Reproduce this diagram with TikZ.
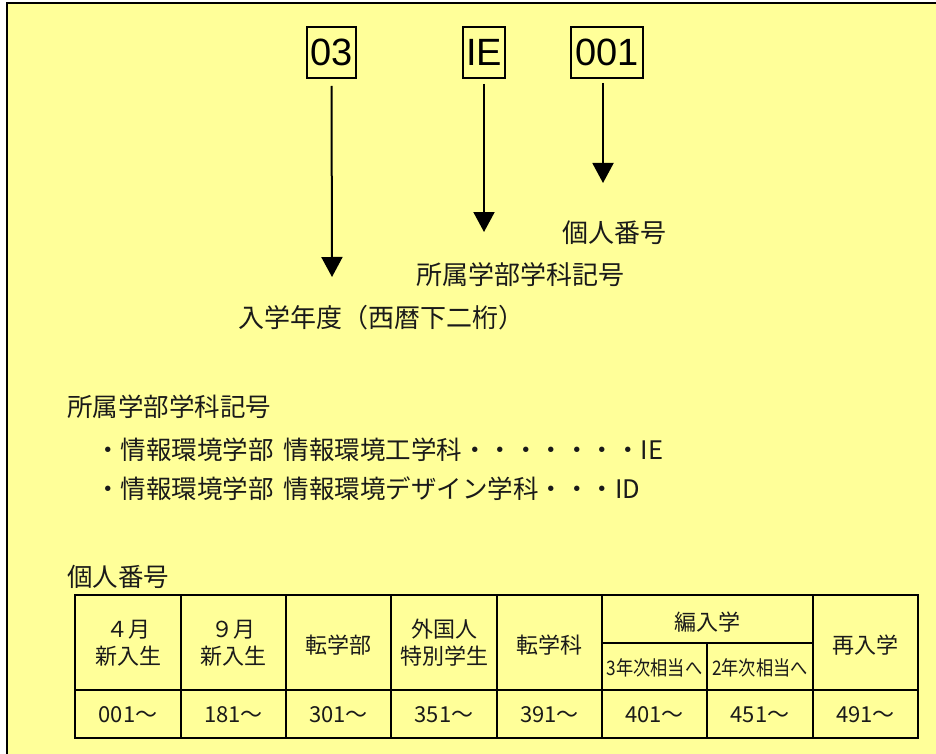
\documentclass[tikz,border=0pt]{standalone}
\usepackage{fontspec}
\usepackage{graphicx}
\newfontfamily\jp{Noto Sans CJK JP}
\newfontfamily\arl{Liberation Sans}
\usetikzlibrary{arrows.meta}
\definecolor{bgy}{HTML}{FFFF99}
\definecolor{ink}{HTML}{1A1A1A}
\begin{document}
\begin{tikzpicture}[x=1pt,y=-1pt,
 code/.style={draw,line width=2pt,inner sep=0pt,text=black,font=\arl\fontsize{38}{38}\selectfont,minimum height=51pt},
 lab/.style={font=\jp\fontsize{26}{26}\selectfont,inner sep=0pt,text=ink},
 body/.style={font=\jp\fontsize{25.5}{25.5}\selectfont,inner sep=0pt,anchor=west,text=ink},
 arr/.style={line width=2pt,-{Triangle[width=21pt,length=20pt]}},
 cell/.style={font=\jp\fontsize{22}{27}\selectfont,inner sep=0pt,align=center,text=ink},
 small/.style={font=\jp\fontsize{20}{20}\selectfont,inner sep=0pt,text=ink},
 tl/.style={line width=2pt}]
\useasboundingbox (0,0) rectangle (936,754);
\fill[bgy] (6.5,3.5) rectangle (936,754);
\draw[line width=2pt] (6.5,754) -- (6.5,3.5) -- (936,3.5);

% code boxes
\node[code,minimum width=49pt] (c03) at (331.5,52.5) {03};
\node[code,minimum width=42pt] (cie) at (484,52.5) {IE};
\node[code,minimum width=72pt] (c001) at (607,52.5) {001};

\coordinate (t03) at (332,277);
\coordinate (tie) at (484,232);
\coordinate (t001) at (603,183);
\coordinate (s001) at (603,78);

\draw[arr,shorten <=7pt] (c03.south) -- (t03);
\draw[arr,shorten <=5pt] (cie.south) -- (tie);
\draw[arr,shorten <=5pt] (s001) -- (t001);

% labels
\node[lab] (l001) at (614.5,233) {個人番号};
\node[lab] (lie) at (520.5,275) {所属学部学科記号};
\node[lab] (l03) at (381,318) {入学年度（西暦下二桁）};

% body text
\node[body] (h1) at (67,407) {所属学部学科記号};
\node[body] (i1) at (95,450) {・情報環境学部\hspace{0.4em}情報環境工学科・・・・・・・IE};
\node[body] (i2) at (95,489) {・情報環境学部\hspace{0.4em}情報環境デザイン学科・・・ID};
\node[body] (h2) at (67,577) {個人番号};

% table grid
\draw[tl] (75,595) rectangle (918,738);
\draw[tl] (75,690) -- (918,690);
\draw[tl] (602,643) -- (813,643);
\foreach \xx in {181,286,391,497,602,813} \draw[tl] (\xx,595) -- (\xx,738);
\draw[tl] (707,643) -- (707,738);

% header cells
\node[cell] (k1) at (128,643) {４月\\新入生};
\node[cell] (k2) at (233.5,643) {９月\\新入生};
\node[cell] (k3) at (338.5,645) {転学部};
\node[cell] (k4) at (444,643) {外国人\\特別学生};
\node[cell] (k5) at (549.5,645) {転学科};
\node[cell] (k6) at (707.5,622) {編入学};
\node[small] (k7) at (654.5,668) {\scalebox{0.86}[1]{3年次相当へ}};
\node[small] (k8) at (760,668) {\scalebox{0.86}[1]{2年次相当へ}};
\node[cell] (k9) at (865.5,645) {再入学};

% number cells
\node[cell] (n1) at (128,715) {001～};
\node[cell] (n2) at (233.5,715) {181～};
\node[cell] (n3) at (338.5,715) {301～};
\node[cell] (n4) at (444,715) {351～};
\node[cell] (n5) at (549.5,715) {391～};
\node[cell] (n6) at (654.5,715) {401～};
\node[cell] (n7) at (760,715) {451～};
\node[cell] (n8) at (865.5,715) {491～};
\end{tikzpicture}
\end{document}
